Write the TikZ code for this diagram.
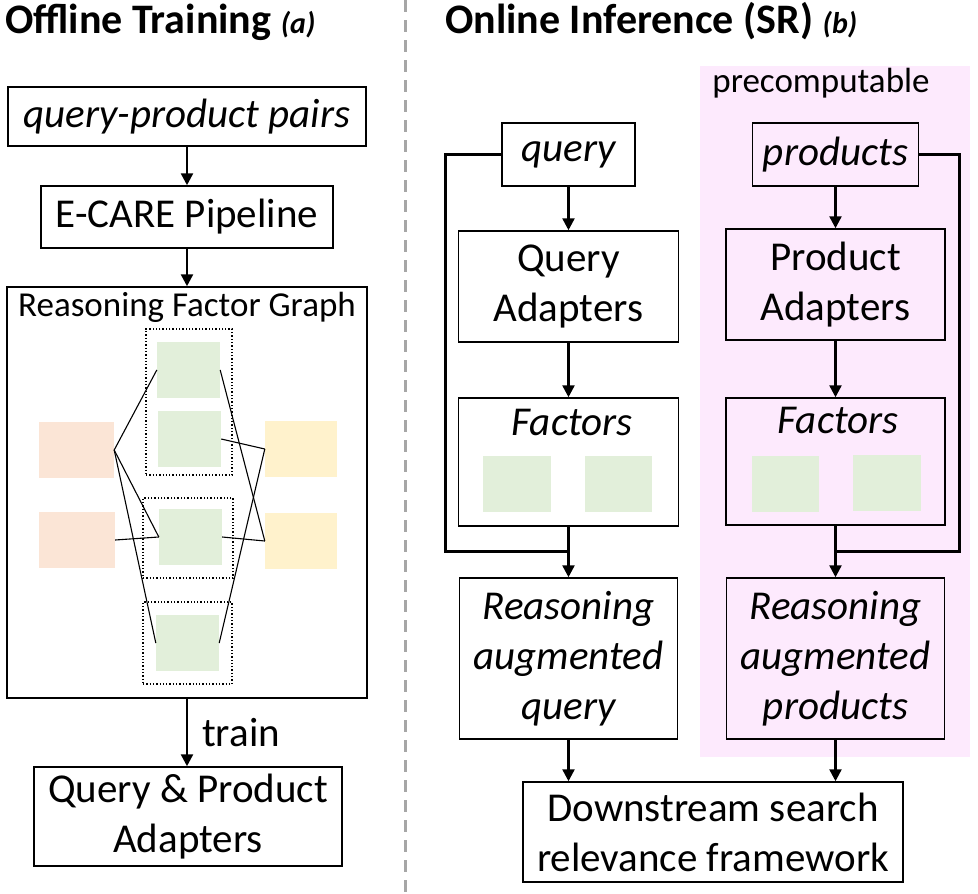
\documentclass[tikz,border=0pt]{standalone}
\usepackage{fontspec}
\setmainfont{Carlito}
\usetikzlibrary{arrows.meta}
\definecolor{fgreen}{RGB}{226,239,218}
\definecolor{forange}{RGB}{251,229,214}
\definecolor{fyellow}{RGB}{255,242,204}
\definecolor{fpink}{RGB}{253,234,253}
\definecolor{divgray}{RGB}{166,166,166}
\newcommand\mainfs{\fontsize{41}{50}\selectfont}
\newcommand\titlefs{\fontsize{42}{46}\selectfont}
\newcommand\smallfs{\fontsize{35}{40}\selectfont}
\begin{document}
\begin{tikzpicture}[x=1pt,y=-1pt,
  box/.style={draw=black, line width=1.5pt, inner sep=0pt, align=center, font=\mainfs},
  ibox/.style={box, font=\mainfs\itshape},
  gbox/.style={fill=fgreen, draw=none, inner sep=0pt, minimum width=63, minimum height=56},
  obox/.style={fill=forange, draw=none, inner sep=0pt, minimum width=75, minimum height=56},
  ybox/.style={fill=fyellow, draw=none, inner sep=0pt, minimum width=72, minimum height=56},
  dbox/.style={draw=black, dotted, line width=1.3pt, inner sep=0pt},
  arr/.style={line width=2.5pt, -{Triangle[length=12pt,width=12pt]}},
  fb/.style={line width=3pt},
  edge/.style={line width=1.1pt}
]
\useasboundingbox (0,0) rectangle (978,894);
% pink background
\fill[fpink] (700,66) rectangle (970,757);
% divider
\draw[divgray, line width=3pt, dash pattern=on 12pt off 8pt] (405,0) -- (405,894);

% titles
\node[anchor=base west, inner sep=0pt, font=\titlefs\bfseries] (t1) at (5,33) {Offline Training \textit{\fontsize{30}{34}\selectfont (a)}};
\node[anchor=base west, inner sep=0pt, font=\titlefs\bfseries] (t2) at (445,33) {Online Inference (SR) \textit{\fontsize{30}{34}\selectfont (b)}};
\node[anchor=base, inner sep=0pt, font=\smallfs] (pre) at (821,92) {precomputable};

% ---------- left panel ----------
\node[ibox, minimum width=358, minimum height=59] (qpp) at (187,116.5) {query-product pairs};
\node[box, minimum width=292, minimum height=62] (ecare) at (187,217) {E-CARE Pipeline};
\node[box, minimum width=360, minimum height=411] (fg) at (187,492.5) {};
\node[anchor=base, inner sep=0pt, font=\smallfs] (fgt) at (187,316) {Reasoning Factor Graph};
\node[box, minimum width=308, minimum height=99] (qpa) at (188,816.5) {Query \& Product\\Adapters};

\draw[arr] (qpp.south -| fg.north) -- (ecare.north -| fg.north);
\draw[arr] (ecare.south -| fg.north) -- (fg.north);
\draw[arr] (fg.south) -- (qpa.north -| fg.south) node[midway, right=14pt, font=\mainfs, inner sep=0pt] (train) {train};

% factor graph
\node[dbox, minimum width=86, minimum height=146] (d1) at (189,402) {};
\node[dbox, minimum width=90, minimum height=80] (d2) at (188,538) {};
\node[dbox, minimum width=89, minimum height=82] (d3) at (187.5,643) {};
\node[gbox] (g1) at (188.5,370) {};
\node[gbox] (g2) at (189.5,439) {};
\node[gbox] (g3) at (190.5,537) {};
\node[gbox] (g4) at (187.5,643) {};
\node[obox] (o1) at (76.5,450) {};
\node[obox, minimum width=76] (o2) at (77,540) {};
\node[ybox] (y1) at (301,449) {};
\node[ybox] (y2) at (301,541) {};
\draw[edge] (o1.east) -- (g1.west);
\draw[edge] (o1.east) -- (g3.west);
\draw[edge] (o1.east) -- (g4.west);
\draw[edge] (o2.east) -- (g3.west);
\draw[edge] (g1.east) -- (y2.west);
\draw[edge] (g2.east) -- (y1.west);
\draw[edge] (g3.east) -- (y2.west);
\draw[edge] (g4.east) -- (y1.west);

% ---------- right panel ----------
\node[ibox, minimum width=133, minimum height=63] (query) at (568.5,154.5) {query};
\node[ibox, minimum width=166, minimum height=63] (prod) at (835.5,154.5) {products};
\node[box, minimum width=220, minimum height=111] (qad) at (568.5,286.5) {Query\\Adapters};
\node[box, minimum width=219, minimum height=111] (pad) at (835.5,284.5) {Product\\Adapters};
\node[box, minimum width=220, minimum height=128] (fl) at (568.5,462) {};
\node[box, minimum width=219, minimum height=127] (fr) at (835.5,461.5) {};
\node[anchor=base, inner sep=0pt, font=\mainfs\itshape] (flt) at (572,435) {Factors};
\node[anchor=base, inner sep=0pt, font=\mainfs\itshape] (frt) at (838,433) {Factors};
\node[gbox, minimum width=68] (gla) at (517,484) {};
\node[gbox, minimum width=67] (glb) at (618.5,484) {};
\node[gbox, minimum width=67] (gra) at (785.5,484) {};
\node[gbox, minimum width=68] (grb) at (887,483) {};
\node[ibox, minimum width=218, minimum height=161] (rl) at (568.5,658.5) {Reasoning\\augmented\\query};
\node[ibox, minimum width=218, minimum height=161] (rr) at (835.5,658.5) {Reasoning\\augmented\\products};
\node[box, minimum width=380, minimum height=100] (ds) at (713,832) {Downstream search\\relevance framework};

\coordinate (jl) at (568.5,551);
\coordinate (kl) at (445,551);
\coordinate (jr) at (835.5,551);
\coordinate (kr) at (959,551);

\draw[arr] (query.south) -- (qad.north);
\draw[arr] (qad.south) -- (fl.north);
\draw[arr] (fl.south) -- (rl.north);
\draw[fb] (query.west) -| (kl) -- (jl);
\draw[arr] (prod.south) -- (pad.north);
\draw[arr] (pad.south) -- (fr.north);
\draw[arr] (fr.south) -- (rr.north);
\draw[fb] (prod.east) -| (kr) -- (jr);
\draw[arr] (rl.south) -- (rl.south |- ds.north);
\draw[arr] (rr.south) -- (rr.south |- ds.north);
\end{tikzpicture}
\end{document}
